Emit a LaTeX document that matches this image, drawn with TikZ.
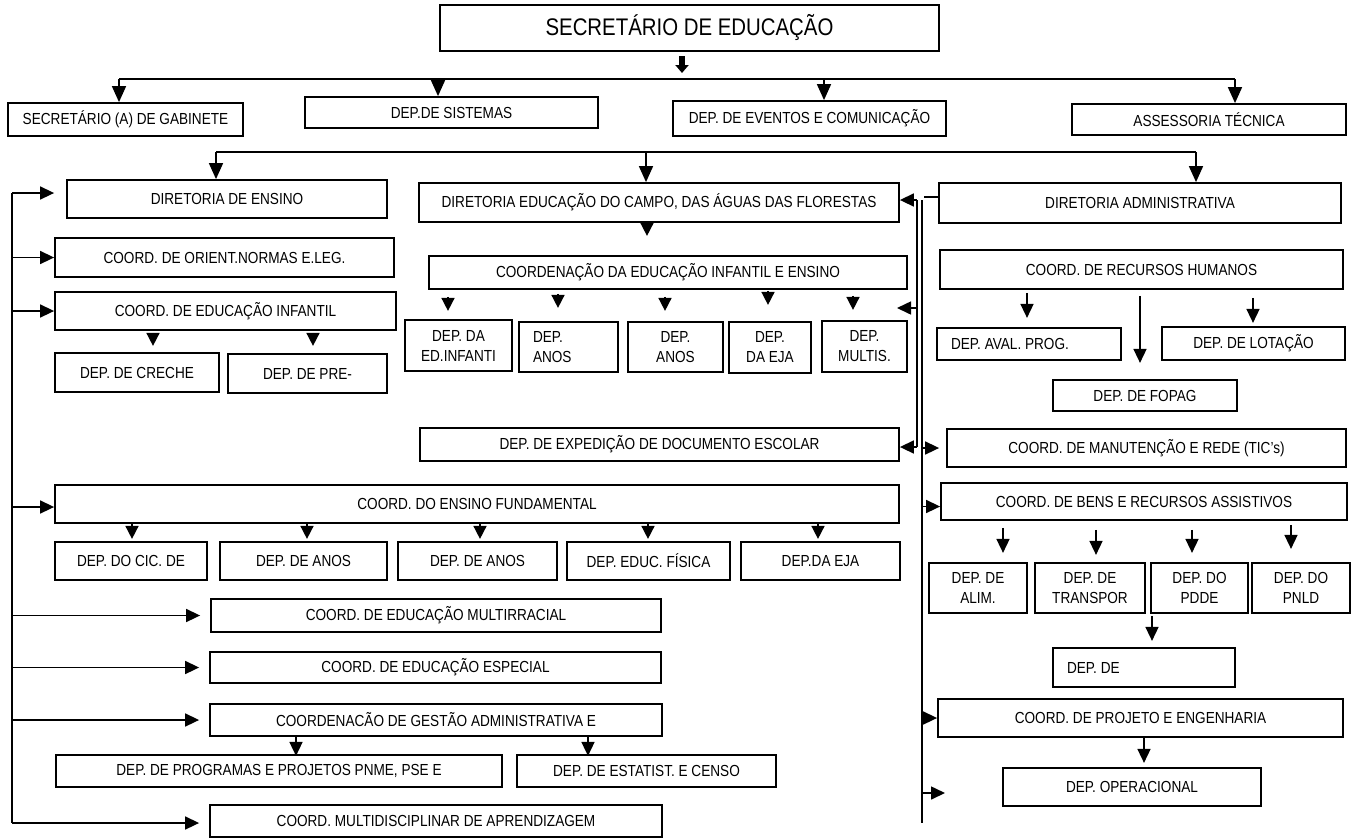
\documentclass[tikz,border=0pt]{standalone}
\usepackage{fontspec}
\setmainfont{Liberation Sans}[FakeStretch=0.85]
\usetikzlibrary{arrows.meta,positioning,calc}
\tikzset{unit/.style ={
        draw=black,
        line width=1.8pt,
        inner sep=2pt,
        font=\fontsize{16}{20}\selectfont,
        align=center
    },
    head/.style ={
        unit,
        line width=2pt,
        font=\fontsize{24}{28}\selectfont
    },
    lefttext/.style ={
        unit,
        inner xsep=14pt,
        align=left
    },
    bus/.style ={
        draw,
        line width=1.6pt
    },
    link/.style ={
        draw,
        line width=1.6pt,
        -{Triangle[length=14pt,width=13pt]}
    },
    drop/.style ={
        draw,
        line width=1.6pt,
        -{Triangle[length=16pt,width=14pt]}
    },
    dart/.style ={
        draw,
        line width=1.6pt,
        -{Triangle[length=13pt,width=13pt]}
    },
    fat/.style ={
        draw,
        line width=6pt,
        -{Triangle[length=8pt,width=13pt]}
    }}

\begin{document}
\frenchspacing
\begin{tikzpicture}[x=1pt,y=1pt]
	\useasboundingbox (0,0) rectangle (1359,-839);
	% top level
	\node[head, minimum width=499, minimum height=46] (sec) at (689.5,-28) {SECRETÁRIO DE EDUCAÇÃO};
	\node[unit, minimum width=235, minimum height=33] (gab) at (125.5,-119.5) {SECRETÁRIO (A) DE GABINETE};
	\node[unit, minimum width=293, minimum height=31] (sis) at (451.5,-112.5) {DEP.DE SISTEMAS};
	\node[unit, minimum width=273, minimum height=35] (eve) at (809.5,-118.5) {DEP. DE EVENTOS E COMUNICAÇÃO};
	\node[unit, minimum width=274, minimum height=31] (ase) at (1209,-119.5) {ASSESSORIA TÉCNICA};
	\node[unit, minimum width=320, minimum height=38] (dirE) at (227,-199) {DIRETORIA DE ENSINO};
	\node[unit, minimum width=480, minimum height=39] (dirC) at (659,-202.5) {DIRETORIA EDUCAÇÃO DO CAMPO, DAS ÁGUAS DAS FLORESTAS};
	\node[unit, minimum width=402, minimum height=40] (dirA) at (1140,-203) {DIRETORIA ADMINISTRATIVA};
	% diretoria de ensino
	\node[unit, minimum width=339, minimum height=39] (orient) at (224.5,-257.5) {COORD. DE ORIENT.NORMAS E.LEG.};
	\node[unit, minimum width=341, minimum height=38] (infantil) at (225.5,-311) {COORD. DE EDUCAÇÃO INFANTIL};
	\node[unit, minimum width=164, minimum height=39] (creche) at (137,-372.5) {DEP. DE CRECHE};
	\node[unit, minimum width=159, minimum height=39] (pre) at (307.5,-373.5) {DEP. DE PRE-};
	\node[unit, minimum width=844, minimum height=38] (fund) at (477,-504) {COORD. DO ENSINO FUNDAMENTAL};
	\node[unit, minimum width=152, minimum height=38] (f1) at (131,-561) {DEP. DO CIC. DE};
	\node[unit, minimum width=167, minimum height=38] (f2) at (303.5,-561) {DEP. DE ANOS};
	\node[unit, minimum width=159, minimum height=38] (f3) at (477.5,-561) {DEP. DE ANOS};
	\node[unit, minimum width=163, minimum height=38] (f4) at (648.5,-561) {DEP. EDUC. FÍSICA};
	\node[unit, minimum width=159, minimum height=38] (f5) at (820.5,-561) {DEP.DA EJA};
	\node[unit, minimum width=450, minimum height=33] (multir) at (436,-615.5) {COORD. DE EDUCAÇÃO MULTIRRACIAL};
	\node[unit, minimum width=451, minimum height=31] (especial) at (435.5,-667.5) {COORD. DE EDUCAÇÃO ESPECIAL};
	\node[unit, minimum width=452, minimum height=32] (gestao) at (436,-720) {COORDENACÃO DE GESTÃO ADMINISTRATIVA E};
	\node[unit, minimum width=446, minimum height=32] (prog) at (279,-771) {DEP. DE PROGRAMAS E PROJETOS PNME, PSE E};
	\node[unit, minimum width=259, minimum height=32] (estat) at (646.5,-771) {DEP. DE ESTATIST. E CENSO};
	\node[unit, minimum width=452, minimum height=32] (multid) at (436,-821) {COORD. MULTIDISCIPLINAR DE APRENDIZAGEM};
	% educacao do campo
	\node[unit, minimum width=478, minimum height=33] (coordInf) at (668,-272.5) {COORDENAÇÃO DA EDUCAÇÃO INFANTIL E ENSINO};
	\node[unit, minimum width=107, minimum height=51] (d1) at (458.5,-345.5) {DEP. DA\\ED.INFANTI};
	\node[lefttext, text width=71, minimum height=50] (d2) at (568.5,-347) {DEP.\\ANOS};
	\node[unit, minimum width=95, minimum height=50] (d3) at (675.5,-347) {DEP.\\ANOS};
	\node[unit, minimum width=82, minimum height=51] (d4) at (770,-347.5) {DEP.\\DA EJA};
	\node[unit, minimum width=85, minimum height=51] (d5) at (864.5,-346.5) {DEP.\\MULTIS.};
	\node[unit, minimum width=479, minimum height=33] (exped) at (659.5,-444.5) {DEP. DE EXPEDIÇÃO DE DOCUMENTO ESCOLAR};
	% administrativa
	\node[unit, minimum width=403, minimum height=39] (rh) at (1141.5,-269.5) {COORD. DE RECURSOS HUMANOS};
	\node[unit, minimum width=184, minimum height=32] (aval) at (1029,-344) {\makebox[156pt][l]{DEP. AVAL. PROG.}};
	\node[unit, minimum width=183, minimum height=33] (lot) at (1253.5,-343.5) {DEP. DE LOTAÇÃO};
	\node[unit, minimum width=184, minimum height=31] (fopag) at (1145,-395.5) {DEP. DE FOPAG};
	\node[unit, minimum width=399, minimum height=38] (manut) at (1146.5,-448) {COORD. DE MANUTENÇÃO E REDE (TIC’s)};
	\node[unit, minimum width=406, minimum height=37] (bens) at (1144,-501.5) {COORD. DE BENS E RECURSOS ASSISTIVOS};
	\node[unit, minimum width=98, minimum height=50] (alim) at (978,-588) {DEP. DE\\ALIM.};
	\node[unit, minimum width=110, minimum height=50] (transp) at (1090,-588) {DEP. DE\\TRANSPOR};
	\node[unit, minimum width=97, minimum height=50] (pdde) at (1199.5,-588) {DEP. DO\\PDDE};
	\node[unit, minimum width=98, minimum height=50] (pnld) at (1301,-588) {DEP. DO\\PNLD};
	\node[unit, minimum width=182, minimum height=39] (depde) at (1144,-667.5) {\makebox[154pt][l]{DEP. DE}};
	\node[unit, minimum width=405, minimum height=38] (proj) at (1140.5,-718) {COORD. DE PROJETO E ENGENHARIA};
	\node[unit, minimum width=258, minimum height=38] (oper) at (1132,-787) {DEP. OPERACIONAL};
	% buses
	\coordinate (t1) at (119,-79);
	\coordinate (t2) at (438,-79);
	\coordinate (t3) at (824,-79);
	\coordinate (t4) at (1235,-79);
	\coordinate (s1) at (216,-152);
	\coordinate (s2) at (646,-152);
	\coordinate (s3) at (1196,-152);
	\coordinate (l0) at (12,-193);
	\coordinate (l1) at (12,-823);
	\coordinate (ra0) at (917,-200);
	\coordinate (ra1) at (917,-447);
	\coordinate (rb0) at (922,-200);
	\coordinate (rb1) at (922,-823);
	\draw[fat] ([xshift=-7.5pt,yshift=-4pt]sec.south) -- ++(0,-17);
	\draw[bus] (t1) -- (t4);
	\draw[drop] (t1) -- (t1 |- gab.north);
	\draw[drop] (t2) -- (t2 |- sis.north);
	\draw[drop] (t3) -- (t3 |- eve.north);
	\draw[drop] (t4) -- (t4 |- ase.north);
	\draw[bus] (s1) -- (s3);
	\draw[drop] (s1) -- (s1 |- dirE.north);
	\draw[drop] (s2) -- (s2 |- dirC.north);
	\draw[drop] (s3) -- (s3 |- dirA.north);
	% left side
	\draw[bus] (l0) -- (l1);
	\draw[link, shorten >=12pt] (l0) -- (l0 -| dirE.west);
	\draw[link] (l0 |- orient.west) -- (orient.west);
	\draw[link] (l0 |- infantil.west) -- (infantil.west);
	\draw[link] ($(l0 |- fund.west)+(0,-3)$) -- ($(fund.west)+(0,-3)$);
	\draw[link, shorten >=10pt] (l0 |- multir.west) -- (multir.west);
	\draw[link, shorten >=10pt] (l0 |- especial.west) -- (especial.west);
	\draw[link, shorten >=10pt] (l0 |- gestao.west) -- (gestao.west);
	\draw[link, shorten >=10pt] (l1) -- (l1 -| multid.west);
	\draw[dart] ([xshift=-72.5pt,yshift=-2pt]infantil.south) -- ++(0,-13);
	\draw[dart] ([xshift=87.5pt,yshift=-2pt]infantil.south) -- ++(0,-13);
	\draw[dart] ([xshift=-345pt]fund.south) -- ++(0,-15);
	\draw[dart] ([xshift=-170pt]fund.south) -- ++(0,-15);
	\draw[dart] ([xshift=3pt]fund.south) -- ++(0,-15);
	\draw[dart] ([xshift=171pt]fund.south) -- ++(0,-15);
	\draw[dart] ([xshift=341pt]fund.south) -- ++(0,-15);
	\draw[link] ([xshift=-140pt]gestao.south) -- ++(0,-19);
	\draw[link] ([xshift=152pt]gestao.south) -- ++(0,-19);
	% middle
	\draw[dart] ([xshift=-12pt]dirC.south) -- ++(0,-13);
	\draw[dart] ([xshift=-220pt,yshift=-7pt]coordInf.south) -- ++(0,-14);
	\draw[dart] ([xshift=-110pt,yshift=-4pt]coordInf.south) -- ++(0,-14);
	\draw[dart] ([xshift=-3pt,yshift=-7pt]coordInf.south) -- ++(0,-14);
	\draw[dart] ([xshift=100pt,yshift=-1pt]coordInf.south) -- ++(0,-14);
	\draw[dart] ([xshift=185pt,yshift=-6pt]coordInf.south) -- ++(0,-14);
	\draw[bus] ([yshift=6pt]dirA.west) -- ++(-14,0);
	\draw[bus] (ra0) -- (ra1);
	\draw[link] (ra0) -- (ra0 -| dirC.east);
	\draw[link] ([yshift=-108pt]ra0) -- ++(-20,0);
	\draw[link] (ra1) -- (ra1 -| exped.east);
	% right side
	\draw[bus] (rb0) -- (rb1);
	\draw[link, shorten >=7pt] (rb0 |- manut.west) -- (manut.west);
	\draw[link] ($(rb0 |- bens.west)+(0,-5)$) -- ($(bens.west)+(0,-5)$);
	\draw[link] (rb0 |- proj.west) -- (proj.west);
	\draw[link] ($(rb0 |- oper.west)+(0,-6)$) -- ++(23,0);
	\draw[link] ([xshift=-114.5pt,yshift=-3pt]rh.south) -- ++(0,-25);
	\draw[link] ([xshift=-1.5pt,yshift=-6pt]rh.south) -- ++(0,-67);
	\draw[link] ([xshift=111.5pt,yshift=-8pt]rh.south) -- ++(0,-25);
	\draw[link] ([xshift=-141pt,yshift=-7pt]bens.south) -- ++(0,-25);
	\draw[link] ([xshift=-48pt,yshift=-9pt]bens.south) -- ++(0,-25);
	\draw[link] ([xshift=48pt,yshift=-9pt]bens.south) -- ++(0,-23);
	\draw[link] ([xshift=147pt,yshift=-4pt]bens.south) -- ++(0,-24);
	\draw[link] ([xshift=-47.5pt,yshift=-2pt]pdde.south) -- ++(0,-25);
	\draw[link] ([xshift=3.5pt]proj.south) -- ++(0,-25);
\end{tikzpicture}
\end{document}
